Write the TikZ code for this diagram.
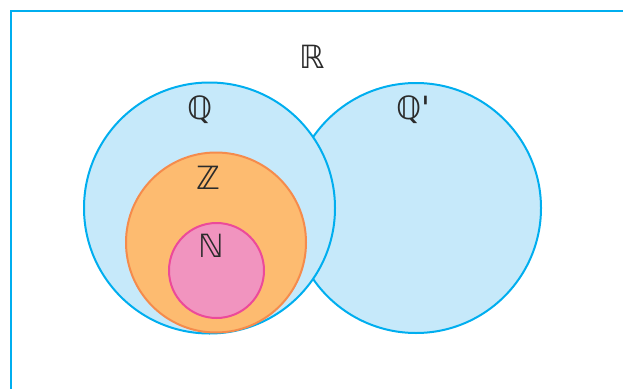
\documentclass[tikz,border=0pt]{standalone}
\usepackage{fontspec}
\newfontfamily\bbfont{DejaVu Sans}
\definecolor{setblue}{HTML}{00AEEF}
\definecolor{setbluefill}{HTML}{C6E9FA}
\definecolor{setorange}{HTML}{F58B4C}
\definecolor{setorangefill}{HTML}{FDBB70}
\definecolor{setpink}{HTML}{EC4A9A}
\definecolor{setpinkfill}{HTML}{F194BF}
\definecolor{settext}{HTML}{2B2B2B}
\begin{document}
\begin{tikzpicture}[x=1pt,y=-1pt,
  setcircle/.style={circle,inner sep=0pt,line width=2pt},
  setname/.style={text=settext,font=\bbfont\fontsize{32}{32}\selectfont,inner sep=0pt}]
  \useasboundingbox (0,0) rectangle (623,388);
  % frame of R
  \draw[setblue,line width=2pt] (625,11)--(11,11)--(11,390);
  % the sets
  \node[setcircle,draw=setblue,fill=setbluefill,minimum size=250pt] (Qp) at (416,208) {};
  \node[setcircle,draw=setblue,fill=setbluefill,minimum size=251pt] (Q) at (209.5,208) {};
  \node[setcircle,draw=setorange,fill=setorangefill,minimum size=180pt] (Z) at (216,242.5) {};
  \node[setcircle,draw=setpink,fill=setpinkfill,minimum size=95pt] (N) at (216.5,270.5) {};
  % labels
  \node[setname] (lR) at (312,57) {ℝ};
  \node[setname] (lQ) at (200,110) {ℚ};
  \node[setname] (lQp) at (413,110) {ℚ'};
  \node[setname] (lZ) at (208,178) {ℤ};
  \node[setname] (lN) at (211,246) {ℕ};
\end{tikzpicture}
\end{document}
